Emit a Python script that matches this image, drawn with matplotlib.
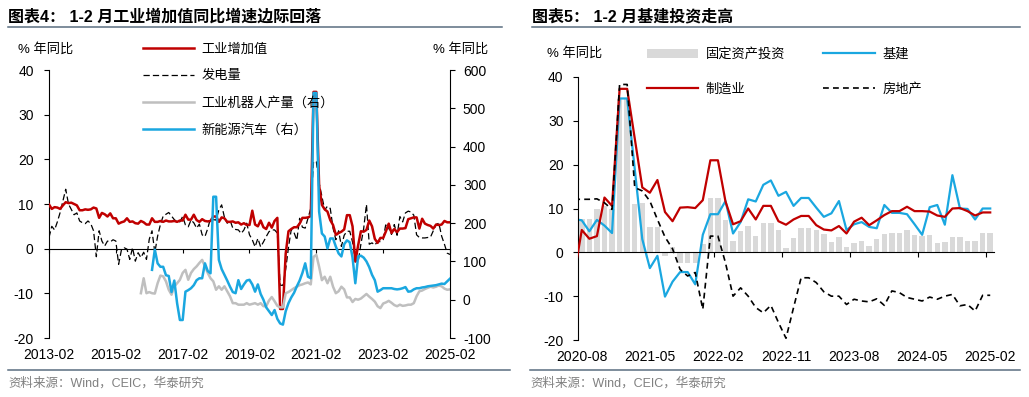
# -*- coding: utf-8 -*-
# 图表4 / 图表5: 工业增加值、基建投资

import numpy as np
import pandas as pd
import matplotlib
matplotlib.use('Agg')
import matplotlib.pyplot as plt
import matplotlib.transforms as mtransforms
from matplotlib.lines import Line2D
from matplotlib.patches import Patch

plt.rcParams['font.family'] = ['Liberation Sans', 'Noto Sans CJK SC']
plt.rcParams['axes.unicode_minus'] = False

# %% data: left chart, monthly 2013-02 .. 2025-02 (rows run Feb..Jan)

months_l = pd.date_range('2013-02-01', '2025-02-01', freq='MS')

ind_va = [9.9, 8.9, 9.3, 9.2, 8.9, 9.7, 10.4, 10.2, 10.3, 10.0, 9.7, 8.6,
          8.6, 8.8, 8.7, 8.8, 9.2, 9.0, 6.9, 8.0, 7.7, 7.2, 7.9, 6.8,
          6.8, 5.6, 5.9, 6.1, 6.8, 6.0, 6.1, 5.7, 5.6, 6.2, 5.9, 5.4,
          5.4, 6.8, 6.0, 6.0, 6.2, 6.0, 6.3, 6.1, 6.1, 6.2, 6.0, 6.3,
          6.3, 7.6, 6.5, 6.5, 7.6, 6.4, 6.0, 6.6, 6.2, 6.1, 6.2, 7.2,
          7.2, 6.0, 7.0, 6.8, 6.0, 6.0, 6.1, 5.8, 5.9, 5.4, 5.7, 5.3,
          5.3, 8.5, 5.4, 5.0, 6.3, 4.8, 4.4, 5.8, 4.7, 6.2, 6.9, -13.5,
          -13.5, -1.1, 3.9, 4.4, 4.8, 4.8, 5.6, 6.9, 6.9, 7.0, 7.3, 35.1,
          35.1, 14.1, 9.8, 8.8, 8.3, 6.4, 5.3, 3.1, 3.5, 3.8, 4.3, 7.5,
          7.5, 5.0, -2.9, 0.7, 3.9, 3.8, 4.2, 6.3, 5.0, 2.2, 1.3, 2.4,
          2.4, 3.9, 5.6, 3.5, 4.4, 3.7, 4.5, 4.5, 4.6, 6.6, 6.8, 7.0,
          7.0, 4.5, 6.7, 5.6, 5.3, 5.1, 4.5, 5.4, 5.3, 5.4, 6.2, 5.9,
          5.9]

power = [2.5, 5.0, 4.2, 6.0, 8.1, 10.7, 13.3, 10.0, 8.8, 7.6, 8.0, 6.2,
         5.8, 5.6, 6.2, 5.6, 4.0, -1.8, 4.0, 1.7, 0.6, 1.7, 1.5, 2.0,
         1.7, -3.5, -0.3, 0.2, -0.1, -2.4, 0.2, -2.8, -0.9, -2.0, -0.8, -2.4,
         2.1, 4.0, -0.9, 2.8, 5.4, 7.3, 7.7, 8.1, 7.3, 6.5, 6.0, 6.0,
         7.2, 5.3, 4.9, 6.4, 5.8, 4.6, 5.5, 3.1, 2.7, 4.5, 6.8, 6.5,
         6.4, 8.7, 9.8, 7.0, 5.7, 6.4, 4.6, 4.3, 4.2, 3.4, 4.2, 5.7,
         3.1, 2.0, 0.4, 2.3, 0.4, 1.5, 2.7, 3.8, 4.2, 4.2, 3.5, -8.2,
         -8.2, -4.6, 0.3, 4.3, 3.6, 1.9, 6.8, 4.8, 4.6, 6.8, 9.0, 19.5,
         19.5, 14.7, 11.7, 8.7, 9.5, 9.0, 4.6, 2.0, 4.0, 0.5, 3.0, 3.9,
         3.9, 1.5, -2.5, -3.0, 1.0, 4.5, 9.9, 1.0, 1.3, 0.8, 1.6, 1.6,
         2.0, 5.7, 4.6, 3.2, 5.4, 3.0, 7.2, 6.0, 8.0, 8.4, 8.2, 7.5,
         3.1, 2.5, 2.4, 2.4, 2.5, 2.6, 4.0, 5.4, 5.7, 2.8, 1.0, -1.0,
         -1.3]

nan = np.nan
robot = [nan] * 33 + [
         17, 56, 17,
         20, 17, 16, 43, 63, 61, 48, 26, 13, 35, 43, 52,
         70, 78, 52, 70, 80, 87, 96, 104, 87, 70, 56, 48,
         26, 35, 26, 35, 22, 9, -9, -9, -13, -13, -13, -9,
         -13, -11, -9, -13, -9, -17, -17, -2, 7, -4, -16, -20,
         -20, 17, 20, 25, 30, 34, 38, 40, 43, 45, 40, 112,
         117, 86, 51, 60, 43, 60, 34, 17, 22, 34, 27, 6,
         6, -6, 2, 0, 3, 9, 15, 8, 2, -5, -17, -22,
         -10, -7, -3, -8, -14, -17, -13, -16, -15, -13, -13, -9,
         9, 22, 24, 28, 31, 34, 32, 34, 37, 35, 29, 26,
         27]

nev = [nan] * 37 + [
       78, 131, 95, 86, 86, 64, 62, 20, 50, -9, -53,
       -53, 21, 25, 30, 38, 51, 56, 56, 95, 75, 69, 269,
       269, 104, 80, 65, 50, 34, 20, 17, 51, 28, 40, 50,
       52, 40, 21, 40, 15, 0, -20, -30, -40, -27, -50, -62,
       -65, -30, -9, 6, 18, 35, 50, 70, 95, 60, 56, 540,
       540, 230, 173, 165, 134, 160, 160, 139, 121, 113, 145, 155,
       150, 110, 43, 113, 115, 110, 100, 85, 65, 51, 21, 25,
       30, 30, 30, 30, 28, 27, 28, 30, 33, 21, 22, 27,
       30, 30, 32, 33, 35, 36, 37, 38, 40, 42, 41, 48,
       55]

# %% data: right chart, monthly 2020-07 .. 2025-02 (first month only feeds the line start)

months_r = pd.date_range('2020-07-01', '2025-02-01', freq='MS')

fai = [nan,
       7.7, 7.7, 9.8, 10.5, 10.0, 35.0, 35.0, 11.0, 11.3, 5.7,
       5.7, -0.8, 1.2, -2.4, -2.4, -2.4, 2.0, 12.4, 12.4, 7.4,
       2.6, 4.9, 6.0, 3.7, 6.7, 6.8, 5.2, 1.1, 3.3, 5.6,
       5.6, 5.1, 4.1, 2.4, 3.5, 1.3, 2.2, 2.6, 1.4, 3.1,
       4.2, 4.3, 4.3, 5.0, 3.9, 3.7, 3.9, 2.2, 2.4, 3.6,
       3.6, 2.6, 2.5, 4.3, 4.3]

infra = [7.6,
         7.3, 4.8, 7.4, 6.1, 4.4, 35.1, 35.1, 19.0, 3.0, -3.6,
         -0.8, -10.1, -6.7, -4.5, -4.5, -7.3, 4.0, 8.7, 8.7, 11.7,
         4.3, 6.9, 12.1, 11.6, 15.4, 16.4, 12.9, 13.8, 10.6, 12.4,
         12.4, 10.2, 8.1, 8.9, 11.7, 5.1, 6.4, 6.9, 5.8, 5.5,
         10.8, 9.0, 9.0, 8.7, 6.4, 4.0, 10.3, 10.8, 6.3, 17.6,
         10.0, 9.9, 7.5, 10.0, 10.0]

mfg = [-5.1,
       5.1, 3.1, 3.7, 12.5, 10.6, 37.3, 37.3, 26.0, 14.8, 13.6,
       16.5, 9.2, 7.1, 10.2, 10.3, 10.1, 11.9, 21.0, 21.0, 11.6,
       6.4, 7.1, 10.0, 7.5, 10.6, 10.6, 7.1, 6.3, 7.5, 8.3,
       8.3, 6.2, 5.2, 5.0, 6.0, 4.3, 7.0, 7.9, 6.2, 7.3,
       8.5, 9.4, 9.4, 10.4, 9.4, 9.4, 9.3, 8.4, 8.1, 10.0,
       10.1, 9.4, 8.4, 9.1, 9.1]

realty = [12.1,
          12.1, 12.1, 12.2, 11.3, 9.8, 38.3, 38.3, 14.8, 14.0, 11.7,
          7.5, 3.5, 0.8, -3.9, -5.4, -4.6, -13.0, 3.7, 3.7, -2.4,
          -10.0, -8.1, -10.0, -12.6, -13.8, -12.1, -16.0, -19.6, -12.6, -5.8,
          -5.8, -6.9, -9.0, -10.0, -10.0, -11.9, -10.7, -11.1, -11.3, -10.6,
          -12.1, -8.8, -9.2, -10.3, -10.7, -11.1, -10.2, -10.7, -10.0, -9.6,
          -12.2, -11.9, -13.4, -9.8, -9.8]

RED = '#C00000'
BLUE = '#1AA7E0'
GREY = '#BFBFBF'
BAR = '#D9D9D9'
RULE = '#5A6E80'

fig = plt.figure(figsize=(10.29, 3.97), dpi=100)
W, H = 1029.0, 397.0

def frac_box(x0, y_top, x1, y_bot):
    return [x0 / W, 1 - y_bot / H, (x1 - x0) / W, (y_bot - y_top) / H]

# %% left chart

xl = np.arange(len(months_l))
ax1 = fig.add_axes(frac_box(49, 70, 450, 338))
ax1.plot(xl, power, color='black', lw=0.9, ls=(0, (5, 2.5)), zorder=2)
ax1.plot(xl, ind_va, color=RED, lw=1.8, zorder=3)
ax1.set_xlim(xl[0], xl[-1])
ax1.set_ylim(-20, 40)
ax1.set_yticks(range(-20, 41, 10))
for s in ['top', 'right']:
    ax1.spines[s].set_visible(False)
ax1.spines['bottom'].set_position(('data', 0))
ax1.spines['left'].set_linewidth(0.8)
ax1.spines['bottom'].set_linewidth(0.8)
ax1.set_xticks(xl[::24])
ax1.tick_params(axis='x', direction='out', length=3, width=0.8, labelbottom=False)
ax1.tick_params(axis='y', direction='out', length=3.5, width=0.8, pad=7.5, labelsize=10)

tr1 = mtransforms.blended_transform_factory(ax1.transData, ax1.transAxes)
for pos, lab in zip(xl[::24], months_l[::24].strftime('%Y-%m')):
    ax1.text(pos, -0.063, lab, transform=tr1, ha='center', va='center', fontsize=10)

ax2 = ax1.twinx()
ax2.plot(xl, robot, color=GREY, lw=1.8, zorder=2)
ax2.plot(xl, nev, color=BLUE, lw=1.8, zorder=3)
ax2.set_ylim(-100, 600)
ax2.set_yticks(range(-100, 601, 100))
for s in ['top', 'left', 'bottom']:
    ax2.spines[s].set_visible(False)
ax2.spines['right'].set_linewidth(0.8)
ax2.tick_params(axis='y', direction='out', length=3.5, width=0.8, pad=5.8, labelsize=10)

h_left = [Line2D([], [], color=RED, lw=1.8),
          Line2D([], [], color='black', lw=0.9, ls=(0, (5, 2.5))),
          Line2D([], [], color=GREY, lw=1.8),
          Line2D([], [], color=BLUE, lw=1.8)]
l_left = ['工业增加值', '发电量', '工业机器人产量（右）', '新能源汽车（右）']
fig.legend(h_left, l_left, loc='upper left', bbox_to_anchor=(143 / W, 1 - 43.5 / H),
           frameon=False, fontsize=9.5, handlelength=3.9, handletextpad=0.55,
           labelspacing=1.08, borderaxespad=0, borderpad=0)

fig.text(18 / W, 1 - 49 / H, '% 年同比', fontsize=9.5, va='center')
fig.text(433 / W, 1 - 49 / H, '% 年同比', fontsize=9.5, va='center')

# %% right chart

xr = np.arange(len(months_r)) - 1
ax3 = fig.add_axes(frac_box(578, 77, 994, 340))
ax3.bar(xr, fai, width=0.72, color=BAR, zorder=1)
ax3.plot(xr, infra, color=BLUE, lw=1.6, zorder=2)
ax3.plot(xr, mfg, color=RED, lw=1.6, zorder=3)
ax3.plot(xr, realty, color='black', lw=1.2, ls=(0, (3.5, 2.5)), zorder=4)
ax3.set_xlim(-0.5, 54.5)
ax3.set_ylim(-20, 40)
ax3.set_yticks(range(-20, 41, 10))
for s in ['top', 'right']:
    ax3.spines[s].set_visible(False)
ax3.spines['bottom'].set_position(('data', 0))
ax3.spines['left'].set_linewidth(0.8)
ax3.spines['bottom'].set_linewidth(0.8)
ax3.set_xticks(np.arange(8.5, 54.5, 9))
ax3.tick_params(axis='x', direction='out', length=3.5, width=0.8, labelbottom=False)
ax3.tick_params(axis='y', direction='out', length=3.5, width=0.8, pad=7, labelsize=10)

tr3 = mtransforms.blended_transform_factory(ax3.transData, ax3.transAxes)
lab_pos = np.arange(0, 55, 9)
for pos in lab_pos:
    ax3.text(pos, -0.065, months_r[pos + 1].strftime('%Y-%m'), transform=tr3,
             ha='center', va='center', fontsize=10)

h_right = [Patch(facecolor=BAR, edgecolor='none'),
           Line2D([], [], color=RED, lw=1.6),
           Line2D([], [], color=BLUE, lw=1.6),
           Line2D([], [], color='black', lw=1.2, ls=(0, (3.5, 2.5)))]
l_right = ['固定资产投资', '制造业', '基建', '房地产']
fig.legend(h_right, l_right, loc='upper left', ncol=2, bbox_to_anchor=(647 / W, 1 - 48 / H),
           frameon=False, fontsize=9.5, handlelength=3.9, handletextpad=0.55,
           labelspacing=1.7, columnspacing=2.9, borderaxespad=0, borderpad=0)

fig.text(547 / W, 1 - 53 / H, '% 年同比', fontsize=9.5, va='center')

# %% titles, rules, sources

fig.text(8 / W, 1 - 17 / H, '图表4： 1-2 月工业增加值同比增速边际回落',
         fontsize=11.5, fontweight='bold', va='center')
fig.text(532 / W, 1 - 17 / H, '图表5： 1-2 月基建投资走高',
         fontsize=11.5, fontweight='bold', va='center')
for x0, x1 in [(8, 502), (532, 1020)]:
    fig.add_artist(Line2D([x0 / W, x1 / W], [1 - 27 / H] * 2, color=RULE, lw=1.1))
for x0, x1 in [(8, 510), (530, 1020)]:
    fig.add_artist(Line2D([x0 / W, x1 / W], [1 - 370 / H] * 2, color=RULE, lw=1.1))
fig.text(8 / W, 1 - 383 / H, '资料来源：Wind，CEIC，华泰研究', fontsize=9, color='#808080', va='center')
fig.text(530 / W, 1 - 383 / H, '资料来源：Wind，CEIC，华泰研究', fontsize=9, color='#808080', va='center')

fig.savefig('out.png', dpi=100)
